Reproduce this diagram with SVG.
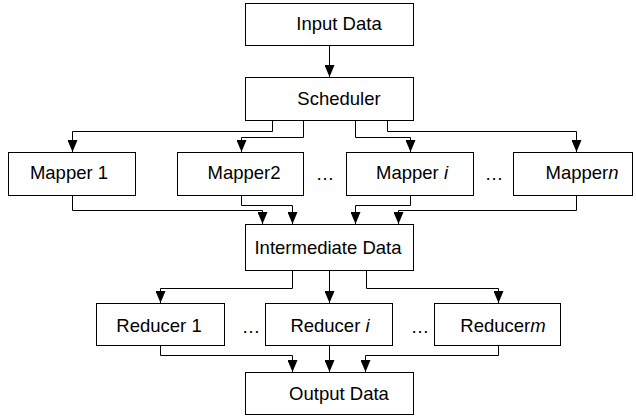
<svg xmlns="http://www.w3.org/2000/svg" width="636" height="417" viewBox="0 0 636 417">
<defs>
<style>
.box{fill:#fff;stroke:#000;stroke-width:1}
.t{font-family:"Liberation Sans",Arial,sans-serif;font-size:18.5px;fill:#000;text-anchor:middle}
.c{fill:none;stroke:#000;stroke-width:1}
</style>
<marker id="ah" viewBox="0 0 12 10" refX="12" refY="5" markerWidth="12" markerHeight="10" markerUnits="userSpaceOnUse" orient="auto">
<path d="M0,0 L12,5 L0,10 Z" fill="#000"/>
</marker>
</defs>
<rect width="636" height="417" fill="#fff"/>
<g id="connectors">
<path class="c" marker-end="url(#ah)" d="M329.5,46 V77"/>
<path class="c" marker-end="url(#ah)" d="M272.5,121 V131.5 H72.5 V152"/>
<path class="c" marker-end="url(#ah)" d="M303.5,121 V137.5 H241.5 V152"/>
<path class="c" marker-end="url(#ah)" d="M355.5,121 V137.5 H410.5 V152"/>
<path class="c" marker-end="url(#ah)" d="M387.5,121 V131.5 H576.5 V152"/>
<path class="c" marker-end="url(#ah)" d="M72.5,195 V210.5 H262.5 V224"/>
<path class="c" marker-end="url(#ah)" d="M241.5,195 V205.5 H292.5 V224"/>
<path class="c" marker-end="url(#ah)" d="M410.5,195 V205.5 H355.5 V224"/>
<path class="c" marker-end="url(#ah)" d="M576.5,195 V210.5 H398.5 V224"/>
<path class="c" marker-end="url(#ah)" d="M292.5,271 V288.5 H160.5 V303"/>
<path class="c" marker-end="url(#ah)" d="M329.5,271 V303"/>
<path class="c" marker-end="url(#ah)" d="M366.5,271 V288.5 H498.5 V303"/>
<path class="c" marker-end="url(#ah)" d="M160.5,346 V355.5 H292.5 V372"/>
<path class="c" marker-end="url(#ah)" d="M329.5,346 V372"/>
<path class="c" marker-end="url(#ah)" d="M498.5,346 V355.5 H365.5 V372"/>
</g>
<g id="input"><rect class="box" x="245.5" y="3.5" width="168" height="42"/><text class="t" x="339" y="30">Input Data</text></g>
<g id="scheduler"><rect class="box" x="245.5" y="77.5" width="168" height="43"/><text class="t" x="339" y="105">Scheduler</text></g>
<g id="mapper1"><rect class="box" x="8.5" y="152.5" width="127" height="43"/><text class="t" x="69" y="179">Mapper 1</text></g>
<g id="mapper2"><rect class="box" x="177.5" y="152.5" width="126" height="43"/><text class="t" x="244" y="179">Mapper2</text></g>
<g id="mapperi"><rect class="box" x="346.5" y="152.5" width="127" height="43"/><text class="t" x="412" y="179">Mapper <tspan font-style="italic">i</tspan></text></g>
<g id="mappern"><rect class="box" x="513.5" y="152.5" width="119" height="43"/><text class="t" x="582" y="179">Mapper<tspan font-style="italic">n</tspan></text></g>
<text class="t" x="325" y="180">…</text>
<text class="t" x="494" y="180">…</text>
<g id="intermediate"><rect class="box" x="245.5" y="224.5" width="168" height="46"/><text class="t" x="328" y="254">Intermediate Data</text></g>
<g id="reducer1"><rect class="box" x="96.5" y="303.5" width="128" height="42"/><text class="t" x="159" y="332">Reducer 1</text></g>
<g id="reduceri"><rect class="box" x="265.5" y="303.5" width="127" height="42"/><text class="t" x="330" y="332">Reducer <tspan font-style="italic">i</tspan></text></g>
<g id="reducerm"><rect class="box" x="434.5" y="303.5" width="126" height="42"/><text class="t" x="503" y="332">Reducer<tspan font-style="italic">m</tspan></text></g>
<text class="t" x="251" y="333">…</text>
<text class="t" x="420" y="333">…</text>
<g id="output"><rect class="box" x="245.5" y="372.5" width="168" height="42"/><text class="t" x="339" y="400">Output Data</text></g>
</svg>
